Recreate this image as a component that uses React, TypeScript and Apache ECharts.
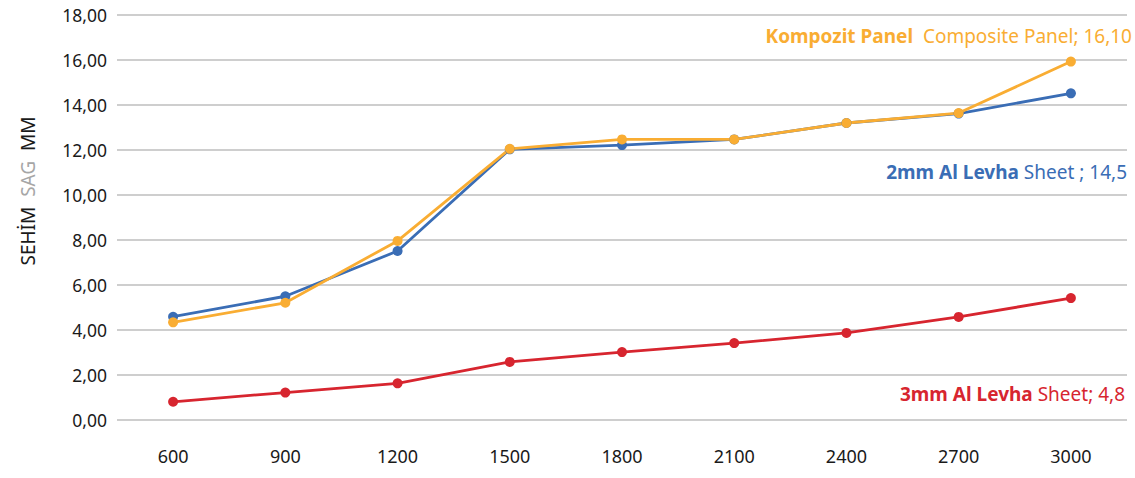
import React, { useEffect, useRef } from "react";
import * as echarts from "echarts";

const categories = ["600", "900", "1200", "1500", "1800", "2100", "2400", "2700", "3000"];
const sheet2mm = [4.59, 5.5, 7.51, 12.03, 12.22, 12.47, 13.2, 13.62, 14.52];
const composite = [4.34, 5.21, 7.96, 12.05, 12.47, 12.47, 13.2, 13.64, 15.93];
const sheet3mm = [0.81, 1.22, 1.63, 2.58, 3.02, 3.42, 3.87, 4.58, 5.42];

const ORANGE = "#F9AD33";
const BLUE = "#3A6DB5";
const RED = "#D7252F";
const FONT = "'Noto Sans', 'Open Sans', sans-serif";

const richText = (bold: string, rest: string, color: string, size: number) => ({
  text: `{a|${bold}}{b|${rest}}`,
  fontSize: size,
  fontFamily: FONT,
  fill: color,
  rich: {
    a: { fontSize: size, fontWeight: "bold", fill: color, fontFamily: FONT },
    b: { fontSize: size, fontWeight: "normal", fill: color, fontFamily: FONT },
  },
});

export default function App() {
  const ref = useRef<HTMLDivElement>(null);
  useEffect(() => {
    if (!ref.current) return;
    const chart = echarts.init(ref.current, undefined, { renderer: "svg" });
    const mkSeries = (name: string, data: number[], color: string) => ({
      name,
      type: "line",
      data,
      symbol: "circle",
      symbolSize: 10,
      lineStyle: { color, width: 2.8 },
      itemStyle: { color },
    });
    chart.setOption({
      animation: false,
      grid: { left: 117, right: 8, top: 15, bottom: 58, containLabel: false },
      xAxis: {
        type: "category",
        data: categories,
        boundaryGap: true,
        axisLine: { show: false },
        axisTick: { show: false },
        axisLabel: { color: "#1a1a1a", fontSize: 18, margin: 27, fontFamily: FONT },
      },
      yAxis: {
        type: "value",
        min: 0,
        max: 18,
        interval: 2,
        axisLine: { show: false },
        axisTick: { show: false },
        splitLine: { lineStyle: { color: "#BEBEBE", width: 1.5 } },
        axisLabel: {
          color: "#1a1a1a",
          fontSize: 17.5,
          margin: 10,
          fontFamily: FONT,
          formatter: (v: number) => v.toFixed(2).replace(".", ","),
        },
      },
      graphic: [
        {
          type: "text",
          x: 28,
          y: 191,
          rotation: Math.PI / 2,
          style: {
            text: "{a|SEHİM}  {b|SAG}  {a|MM}",
            align: "center",
            verticalAlign: "middle",
            fontSize: 19,
            fontFamily: FONT,
            rich: {
              a: { fontSize: 19, fill: "#1a1a1a", fontFamily: FONT },
              b: { fontSize: 19, fill: "#A6A6A6", fontFamily: FONT },
            },
          },
        },
        {
          type: "text",
          right: 3,
          top: 26,
          style: richText("Kompozit Panel", "  Composite Panel; 16,10", ORANGE, 19),
        },
        {
          type: "text",
          right: 8,
          top: 162,
          style: richText("2mm Al Levha", " Sheet ; 14,5", BLUE, 19),
        },
        {
          type: "text",
          right: 10,
          top: 384,
          style: richText("3mm Al Levha", " Sheet; 4,8", RED, 19),
        },
      ],
      series: [
        mkSeries("2mm Al Levha", sheet2mm, BLUE),
        mkSeries("Kompozit Panel", composite, ORANGE),
        mkSeries("3mm Al Levha", sheet3mm, RED),
      ],
    });
    return () => chart.dispose();
  }, []);
  return <div ref={ref} style={{ width: 1135, height: 478, position: "absolute", left: 0, top: 0 }} />;
}
